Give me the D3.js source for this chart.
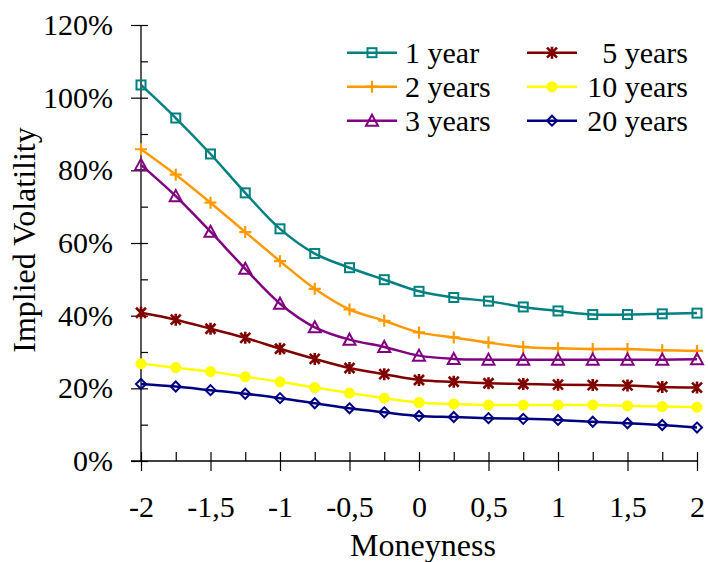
<!DOCTYPE html>
<html>
<head>
<meta charset="utf-8">
<script src="https://cdn.jsdelivr.net/npm/d3@7"></script>
<style>
  html, body { margin: 0; padding: 0; background: #fff; }
  svg text { font-family: "Liberation Serif", "Times New Roman", serif; fill: #000; }
</style>
</head>
<body>
<svg id="chart" width="708" height="562"></svg>
<script>
// Moneyness grid (x) and implied volatility per maturity, in %
const moneyness = [-2, -1.75, -1.5, -1.25, -1, -0.75, -0.5, -0.25, 0, 0.25, 0.5, 0.75, 1, 1.25, 1.5, 1.75, 2];
const vol1y  = [103.5, 94.4, 84.5, 73.8, 63.9, 57.1, 53.2, 49.9, 46.7, 45.0, 44.0, 42.4, 41.3, 40.3, 40.3, 40.5, 40.7];
const vol2y  = [85.8, 78.8, 71.1, 63.0, 55.0, 47.4, 41.7, 38.6, 35.4, 34.0, 32.6, 31.4, 31.0, 30.8, 30.8, 30.5, 30.3];
const vol3y  = [81.5, 72.9, 63.1, 52.9, 43.3, 36.8, 33.4, 31.4, 29.0, 28.1, 27.9, 27.9, 27.9, 27.9, 27.9, 27.9, 28.0];
const vol5y  = [40.8, 38.9, 36.4, 33.9, 30.9, 28.1, 25.6, 23.9, 22.3, 21.8, 21.4, 21.2, 21.0, 20.9, 20.8, 20.4, 20.2];
const vol10y = [26.8, 25.7, 24.6, 23.2, 21.8, 20.2, 18.7, 17.3, 16.1, 15.7, 15.4, 15.4, 15.4, 15.4, 15.2, 15.0, 14.8];
const vol20y = [21.2, 20.5, 19.5, 18.5, 17.3, 15.9, 14.5, 13.4, 12.4, 12.1, 11.8, 11.6, 11.3, 10.8, 10.4, 9.9, 9.2];

const seriesNames = ["1 year", "2 years", "3 years", "5 years", "10 years", "20 years"];
const seriesValues = [vol1y, vol2y, vol3y, vol5y, vol10y, vol20y];
const seriesColors = ["#008080", "#FF9900", "#800080", "#800000", "#FFFF00", "#000080"];
const seriesMarkers = ["square", "plus", "triangle", "star", "circle", "diamond"];

const xTicks = [-2, -1.5, -1, -0.5, 0, 0.5, 1, 1.5, 2];
const xMinorTicks = d3.range(-2, 2.001, 0.25);
const yTicks = [0, 20, 40, 60, 80, 100, 120];
const yMinorTicks = d3.range(0, 120.001, 10);

const svg = d3.select("#chart");
const plot = { left: 141, right: 697, top: 25, bottom: 461 };
const tickFont = 30;
const titleFont = 32;

const x = d3.scaleLinear().domain([-2, 2]).range([plot.left, plot.right]);
const y = d3.scaleLinear().domain([0, 120]).range([plot.bottom, plot.top]);

const fmtX = d => String(d).replace(".", ",");
const fmtY = d => d + "%";

// Axes
const axisG = svg.append("g");
// y axis: inner minor ticks, then crossing major ticks with labels
axisG.append("g")
  .attr("transform", `translate(${plot.left},0)`)
  .call(d3.axisRight(y).tickValues(yMinorTicks).tickSize(7).tickFormat(""))
  .call(g => g.select(".domain").remove())
  .call(g => g.selectAll("line").attr("stroke", "#000").attr("stroke-width", 1.2));
axisG.append("g")
  .attr("transform", `translate(${plot.left},0)`)
  .call(d3.axisLeft(y).tickValues(yTicks).tickSize(10).tickPadding(18).tickFormat(fmtY))
  .call(g => g.select(".domain").attr("d", `M0,${plot.top}V${plot.bottom}`).attr("stroke", "#000").attr("stroke-width", 1.3))
  .call(g => g.selectAll("line").attr("stroke", "#000").attr("stroke-width", 1.2))
  .call(g => g.selectAll("text").attr("font-size", tickFont));

// x axis: inner minor ticks, then crossing major ticks with labels
axisG.append("g")
  .attr("transform", `translate(0,${plot.bottom})`)
  .call(d3.axisTop(x).tickValues(xMinorTicks).tickSize(9).tickFormat(""))
  .call(g => g.select(".domain").remove())
  .call(g => g.selectAll("line").attr("stroke", "#000").attr("stroke-width", 1.2));
axisG.append("g")
  .attr("transform", `translate(0,${plot.bottom})`)
  .call(d3.axisBottom(x).tickValues(xTicks).tickSize(10).tickPadding(25).tickFormat(fmtX))
  .call(g => g.select(".domain").attr("d", `M${plot.left - 10},0H${plot.right}`).attr("stroke", "#000").attr("stroke-width", 1.3))
  .call(g => g.selectAll("line").attr("stroke", "#000").attr("stroke-width", 1.2))
  .call(g => g.selectAll("text").attr("font-size", tickFont));

// Axis titles
svg.append("text")
  .attr("x", 423).attr("y", 556)
  .attr("text-anchor", "middle")
  .attr("font-size", titleFont)
  .text("Moneyness");
svg.append("text")
  .attr("transform", `translate(35,240) rotate(-90)`)
  .attr("text-anchor", "middle")
  .attr("font-size", titleFont)
  .text("Implied Volatility");

// Marker drawing
function drawMarker(g, type, color) {
  switch (type) {
    case "square":
      g.append("rect").attr("x", -4.5).attr("y", -4.5).attr("width", 9).attr("height", 9)
        .attr("fill", "none").attr("stroke", color).attr("stroke-width", 2);
      break;
    case "plus":
      g.append("path").attr("d", "M-6,0H6M0,-6V6")
        .attr("fill", "none").attr("stroke", color).attr("stroke-width", 2.2);
      break;
    case "triangle":
      g.append("path").attr("d", "M0,-6L6,5H-6Z")
        .attr("fill", "none").attr("stroke", color).attr("stroke-width", 2);
      break;
    case "star":
      g.append("path").attr("d", "M-5,-5L5,5M-5,5L5,-5M0,-6V6")
        .attr("fill", "none").attr("stroke", color).attr("stroke-width", 2.6);
      break;
    case "circle":
      g.append("circle").attr("r", 5.5).attr("fill", color);
      break;
    case "diamond":
      g.append("path").attr("d", "M0,-5L5,0L0,5L-5,0Z")
        .attr("fill", "none").attr("stroke", color).attr("stroke-width", 2);
      break;
  }
}

// Series lines (smoothed) and markers
const line = d3.line()
  .x((d, i) => x(moneyness[i]))
  .y(d => y(d))
  .curve(d3.curveCatmullRom.alpha(0.5));

seriesValues.forEach((vals, s) => {
  const g = svg.append("g");
  g.append("path")
    .datum(vals)
    .attr("d", line)
    .attr("fill", "none")
    .attr("stroke", seriesColors[s])
    .attr("stroke-width", 2.5);
  vals.forEach((v, i) => {
    const m = g.append("g").attr("transform", `translate(${x(moneyness[i])},${y(v)})`);
    drawMarker(m, seriesMarkers[s], seriesColors[s]);
  });
});

// Legend: two columns of three entries
const legend = svg.append("g");
seriesNames.forEach((name, s) => {
  const col = Math.floor(s / 3);
  const row = s % 3;
  const cy = 52.7 + row * 34;
  const x0 = col === 0 ? 347 : 527;
  const lg = legend.append("g");
  lg.append("line")
    .attr("x1", x0).attr("x2", x0 + 50)
    .attr("y1", cy).attr("y2", cy)
    .attr("stroke", seriesColors[s]).attr("stroke-width", 2.5);
  drawMarker(lg.append("g").attr("transform", `translate(${x0 + 25},${cy})`), seriesMarkers[s], seriesColors[s]);
  const t = lg.append("text")
    .attr("y", cy + 10)
    .attr("font-size", tickFont)
    .text(name);
  if (col === 0) t.attr("x", 405);
  else t.attr("x", 688).attr("text-anchor", "end");
});
</script>
</body>
</html>
